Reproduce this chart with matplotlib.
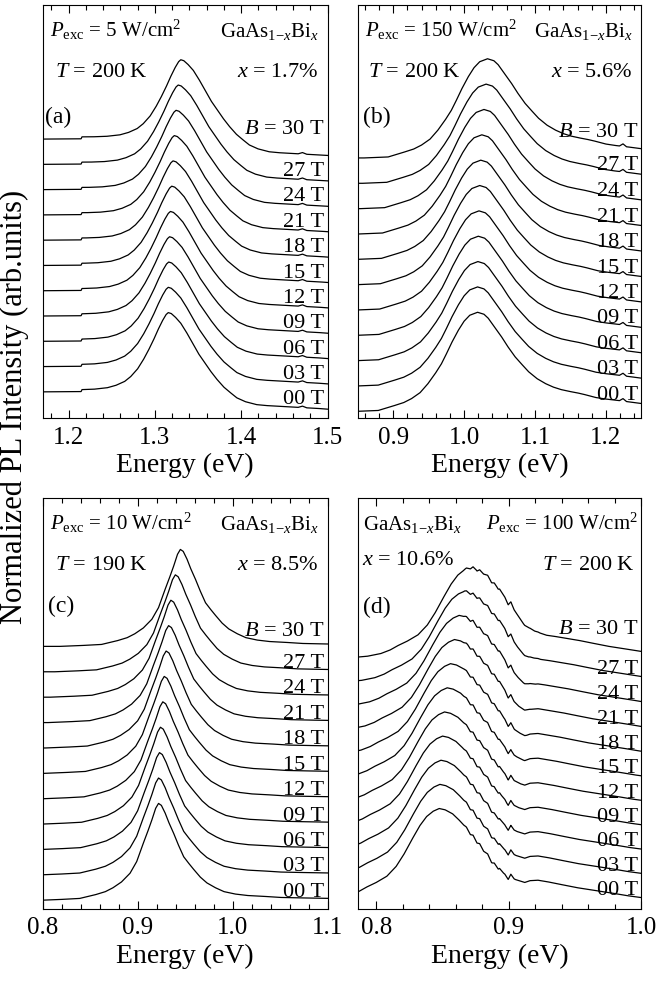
import numpy as np
import matplotlib
matplotlib.use('Agg')
import matplotlib.pyplot as plt
from matplotlib.ticker import MultipleLocator, FormatStrFormatter

plt.rcParams['font.family'] = ['Liberation Serif', 'DejaVu Serif']
plt.rcParams['mathtext.fontset'] = 'custom'
plt.rcParams['mathtext.rm'] = 'Liberation Serif'
plt.rcParams['mathtext.it'] = 'Liberation Serif:italic'
plt.rcParams['mathtext.bf'] = 'Liberation Serif:bold'

# magnetic fields (T) and curve labels
fields = [0, 3, 6, 9, 12, 15, 18, 21, 24, 27, 30]
field_labels = ['00 T', '03 T', '06 T', '09 T', '12 T', '15 T', '18 T',
                '21 T', '24 T', '27 T', '$B$ = 30 T']

# (a) x = 1.7%, 00 T lineshape (normalized) and peak energy per field
a_energy = [1.14, 1.215, 1.230, 1.245, 1.255, 1.265, 1.272, 1.280, 1.287,
            1.293, 1.299, 1.304, 1.309, 1.313, 1.3155, 1.319, 1.324, 1.330,
            1.337, 1.344, 1.351, 1.358, 1.365, 1.372, 1.380, 1.388, 1.395,
            1.405, 1.418, 1.430, 1.450, 1.470, 1.490, 1.505, 1.52]
a_pl = [0.20, 0.205, 0.21, 0.225, 0.25, 0.29, 0.34, 0.42, 0.52,
        0.62, 0.73, 0.83, 0.92, 0.98, 1.00, 0.99, 0.95, 0.89,
        0.79, 0.68, 0.57, 0.48, 0.39, 0.31, 0.23, 0.17, 0.12,
        0.08, 0.05, 0.04, 0.03, 0.02, 0.01, 0.0, -0.005]
a_peak = [1.3155, 1.3155, 1.316, 1.317, 1.318, 1.3195, 1.321, 1.3225,
          1.3245, 1.327, 1.330]
a_feat_energy = [1.16, 1.2145, 1.2155, 1.466, 1.471, 1.476]
a_feat_pl = [-0.02, -0.02, 0.0, 0.0, 0.015, 0.0]

# (b) x = 5.6%
b_energy = [0.82, 0.845, 0.879, 0.902, 0.915, 0.926, 0.938, 0.949, 0.960,
            0.968, 0.975, 0.983, 0.992, 1.000, 1.008, 1.019, 1.028, 1.034,
            1.043, 1.053, 1.062, 1.072, 1.082, 1.091, 1.103, 1.115, 1.126,
            1.137, 1.150, 1.161, 1.170, 1.186, 1.200, 1.218, 1.250, 1.26]
b_pl = [0.0, 0.0, 0.01, 0.06, 0.09, 0.13, 0.19, 0.28, 0.39,
        0.48, 0.58, 0.70, 0.82, 0.91, 0.97, 1.00, 0.98, 0.94,
        0.85, 0.75, 0.65, 0.55, 0.47, 0.40, 0.33, 0.28, 0.245,
        0.22, 0.20, 0.185, 0.17, 0.14, 0.125, 0.11, 0.08, 0.075]
b_peak = [1.019, 1.019, 1.0195, 1.020, 1.021, 1.022, 1.0235, 1.025,
          1.028, 1.031, 1.033]
b_feat_energy = [1.219, 1.224, 1.229]
b_feat_pl = [0.0, 0.025, 0.0]

# (c) x = 8.5%
c_energy = [0.77, 0.795, 0.820, 0.839, 0.856, 0.866, 0.874, 0.883, 0.892,
            0.899, 0.906, 0.911, 0.915, 0.919, 0.922, 0.925, 0.929, 0.933,
            0.938, 0.943, 0.9485, 0.954, 0.959, 0.966, 0.973, 0.982, 0.991,
            1.003, 1.016, 1.035, 1.051, 1.075, 1.105]
c_pl = [0.0, 0.0, 0.01, 0.02, 0.06, 0.09, 0.13, 0.19, 0.28,
        0.40, 0.59, 0.72, 0.83, 0.95, 1.00, 0.98, 0.90, 0.80,
        0.69, 0.57, 0.45, 0.38, 0.32, 0.24, 0.18, 0.13, 0.09,
        0.065, 0.05, 0.04, 0.03, 0.025, 0.02]
c_peak = [0.922, 0.922, 0.923, 0.924, 0.9265, 0.928, 0.930, 0.9326,
          0.935, 0.9397, 0.945]
c_feat_energy = [0.8, 1.1]
c_feat_pl = [0.0, 0.0]

# (d) x = 10.6%
d_energy = [0.755, 0.770, 0.780, 0.787, 0.793, 0.800, 0.808, 0.815, 0.821,
            0.8276, 0.833, 0.838, 0.843, 0.8475, 0.852, 0.8576, 0.8625,
            0.8675, 0.8725, 0.8775, 0.8825, 0.8876, 0.892, 0.896, 0.900,
            0.905, 0.912, 0.920, 0.930, 0.940, 0.952, 0.965, 0.980, 0.990,
            1.000, 1.01]
d_pl = [-0.02, 0.0, 0.03, 0.07, 0.12, 0.17, 0.24, 0.35, 0.49,
        0.67, 0.81, 0.91, 0.97, 1.00, 0.985, 0.94, 0.87,
        0.79, 0.70, 0.61, 0.51, 0.41, 0.34, 0.29, 0.26,
        0.235, 0.22, 0.20, 0.175, 0.145, 0.11, 0.08, 0.045, 0.02,
        0.0, -0.01]
d_peak = [0.8475, 0.848, 0.8488, 0.850, 0.8515, 0.8535, 0.856, 0.859,
          0.8625, 0.8665, 0.871]
d_feat_energy = [0.866, 0.868, 0.871, 0.873, 0.876, 0.878, 0.881, 0.884,
                 0.887, 0.889, 0.892, 0.893, 0.897, 0.8995, 0.9015, 0.904,
                 0.908, 0.912, 0.916, 0.922]
d_feat_pl = [0.0, 0.01, -0.02, 0.01, -0.025, 0.005, -0.02, 0.01,
             -0.03, 0.0, -0.02, 0.0, -0.02, -0.06, 0.01, -0.03,
             -0.04, -0.05, -0.02, 0.0]


def draw_panel(ax, energy, pl, peaks, feat_e, feat_pl, step, xlim, ylim,
               dy, dy_top):
    energy = np.array(energy)
    for k in range(len(fields)):
        shift = peaks[k] - peaks[0]
        x = np.union1d(energy + shift, feat_e)
        y = np.interp(x - shift, energy, pl) + np.interp(x, feat_e, feat_pl)
        ax.plot(x, y + k * step, color='black', lw=0.9)
        y_end = np.interp(xlim[1] - shift, energy, pl) + k * step
        off = dy_top if k == len(fields) - 1 else dy
        ax.text(xlim[1] - (xlim[1] - xlim[0]) * 0.012, y_end + off,
                field_labels[k], ha='right', va='baseline', fontsize=16)
    ax.set_xlim(xlim)
    ax.set_ylim(ylim)
    ax.xaxis.set_major_locator(MultipleLocator(0.1))
    ax.xaxis.set_minor_locator(MultipleLocator(0.02))
    ax.xaxis.set_major_formatter(FormatStrFormatter('%.1f'))
    ax.tick_params(which='both', direction='in', top=True, bottom=True,
                   left=False, right=False, labelleft=False, width=0.8)
    ax.tick_params(which='major', length=6, labelsize=18, pad=6)
    ax.tick_params(which='minor', length=3.5)
    for s in ax.spines.values():
        s.set_linewidth(0.8)
    ax.set_xlabel('Energy (eV)', fontsize=20, labelpad=3)


fig = plt.figure(figsize=(6.63, 9.81), dpi=100)
ax_a = fig.add_axes([0.0644, 0.5734, 0.4296, 0.4215])
ax_b = fig.add_axes([0.5395, 0.5734, 0.4280, 0.4215])
ax_c = fig.add_axes([0.0644, 0.0734, 0.4296, 0.4187])
ax_d = fig.add_axes([0.5395, 0.0734, 0.4280, 0.4187])

draw_panel(ax_a, a_energy, a_pl, a_peak, a_feat_energy, a_feat_pl, 0.261,
           (1.17, 1.5), (-0.093, 4.175), 0.05, 0.22)
draw_panel(ax_b, b_energy, b_pl, b_peak, b_feat_energy, b_feat_pl, 0.2556,
           (0.85, 1.25), (-0.071, 4.098), 0.04, 0.12)
draw_panel(ax_c, c_energy, c_pl, c_peak, c_feat_energy, c_feat_pl, 0.262,
           (0.8, 1.1), (-0.089, 4.148), 0.015, 0.08)
draw_panel(ax_d, d_energy, d_pl, d_peak, d_feat_energy, d_feat_pl, 0.271,
           (0.786, 1.0), (-0.128, 4.483), 0.03, 0.2)

# panel annotations
ax_a.text(0.026, 0.923, r'$P_{\rm exc}$ = 5 W/cm$^2$', transform=ax_a.transAxes, fontsize=15)
ax_a.text(0.043, 0.827, r'$T$ = 200 K', transform=ax_a.transAxes, fontsize=16)
ax_a.text(0.008, 0.715, '(a)', transform=ax_a.transAxes, fontsize=17)
ax_a.text(0.967, 0.923, r'GaAs$_{1\mathrm{-}x}$Bi$_x$', transform=ax_a.transAxes,
          fontsize=15, ha='right')
ax_a.text(0.967, 0.827, r'$x$ = 1.7%', transform=ax_a.transAxes, fontsize=16, ha='right')

ax_b.text(0.026, 0.923, r'$P_{\rm exc}$ = 150 W/cm$^2$', transform=ax_b.transAxes, fontsize=15)
ax_b.text(0.036, 0.827, r'$T$ = 200 K', transform=ax_b.transAxes, fontsize=16)
ax_b.text(0.019, 0.715, '(b)', transform=ax_b.transAxes, fontsize=17)
ax_b.text(0.967, 0.923, r'GaAs$_{1\mathrm{-}x}$Bi$_x$', transform=ax_b.transAxes,
          fontsize=15, ha='right')
ax_b.text(0.967, 0.827, r'$x$ = 5.6%', transform=ax_b.transAxes, fontsize=16, ha='right')

ax_c.text(0.026, 0.923, r'$P_{\rm exc}$ = 10 W/cm$^2$', transform=ax_c.transAxes, fontsize=15)
ax_c.text(0.043, 0.825, r'$T$ = 190 K', transform=ax_c.transAxes, fontsize=16)
ax_c.text(0.019, 0.724, '(c)', transform=ax_c.transAxes, fontsize=17)
ax_c.text(0.967, 0.923, r'GaAs$_{1\mathrm{-}x}$Bi$_x$', transform=ax_c.transAxes,
          fontsize=15, ha='right')
ax_c.text(0.967, 0.825, r'$x$ = 8.5%', transform=ax_c.transAxes, fontsize=16, ha='right')

ax_d.text(0.019, 0.923, r'GaAs$_{1\mathrm{-}x}$Bi$_x$', transform=ax_d.transAxes, fontsize=15)
ax_d.text(0.015, 0.838, r'$x$ = 10.6%', transform=ax_d.transAxes, fontsize=16)
ax_d.text(0.019, 0.72, '(d)', transform=ax_d.transAxes, fontsize=17)
ax_d.text(0.988, 0.923, r'$P_{\rm exc}$ = 100 W/cm$^2$', transform=ax_d.transAxes,
          fontsize=15, ha='right')
ax_d.text(0.977, 0.825, r'$T$ = 200 K', transform=ax_d.transAxes, fontsize=16, ha='right')

fig.text(0.021, 0.585, 'Normalized PL Intensity (arb.units)', rotation=90,
         ha='center', va='center', fontsize=22)

fig.savefig('out.png', dpi=100)
